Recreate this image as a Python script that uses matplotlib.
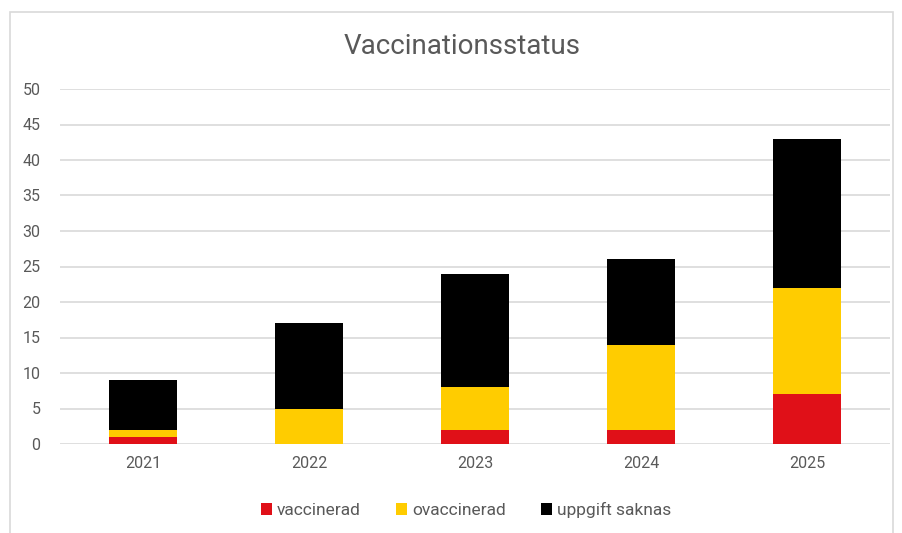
import matplotlib.pyplot as plt
import numpy as np
from matplotlib.patches import Rectangle

# data
years = ['2021', '2022', '2023', '2024', '2025']
vaccinerad = [1, 0, 2, 2, 7]
ovaccinerad = [1, 5, 6, 12, 15]
uppgift_saknas = [7, 12, 16, 12, 21]

plt.rcParams['font.family'] = ['Roboto', 'DejaVu Sans']

fig = plt.figure(figsize=(9.03, 5.33), dpi=100)
ax = fig.add_axes([60/903, 1-444/533, (890-60)/903, (444-89)/533])

# chart frame
fig.patches.append(Rectangle((10/903, -0.1), (893-10)/903, 1.1 - 12/533,
                             transform=fig.transFigure, fill=False,
                             edgecolor='#d9d9d9', linewidth=1.2))

x = np.arange(len(years))
w = 0.41
v = np.array(vaccinerad)
o = np.array(ovaccinerad)
u = np.array(uppgift_saknas)
ax.bar(x, v, w, color='#e01018', label='vaccinerad', zorder=3)
ax.bar(x, o, w, bottom=v, color='#ffcc00', label='ovaccinerad', zorder=3)
ax.bar(x, u, w, bottom=v + o, color='#000000', label='uppgift saknas', zorder=3)

ax.set_xlim(-0.5, 4.5)
ax.set_ylim(0, 50)
ax.set_yticks(range(0, 51, 5))
ax.set_xticks(x)
ax.set_xticklabels(years)
ax.yaxis.grid(True, color='#d9d9d9', linewidth=1.2, zorder=0)
for s in ax.spines.values():
    s.set_visible(False)
ax.tick_params(length=0, labelsize=11.5, labelcolor='#595959')
ax.tick_params(axis='y', pad=14)
ax.tick_params(axis='x', pad=9)

fig.text(462/903, 1-46/533, 'Vaccinationsstatus', ha='center', va='center',
         fontsize=20, color='#595959')

ax.legend(loc='center', bbox_to_anchor=(466/903, 1-510/533),
          bbox_transform=fig.transFigure, ncol=3, frameon=False,
          fontsize=12.5, labelcolor='#595959', handlelength=0.65, handleheight=0.65,
          handletextpad=0.3, columnspacing=2.0)

fig.savefig('out.png', dpi=100)
